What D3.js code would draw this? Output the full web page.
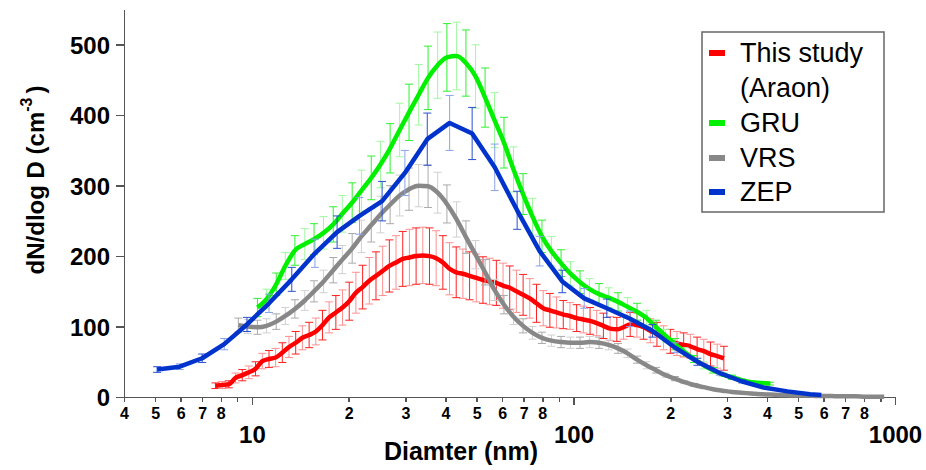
<!DOCTYPE html>
<html>
<head>
    <title>Size distribution</title>
    <style type="text/css">
        body { margin: 0; background: #fff; }
        svg text { font-family: "Liberation Sans", Arial, sans-serif; fill: #000; }
        .axis path, .axis line { stroke: #555; stroke-width: 1.5px; shape-rendering: crispEdges; }
        .axis text { font-weight: bold; }
    </style>
</head>
<body>
<script src="https://d3js.org/d3.v7.min.js" type="text/javascript"></script>
<script type="text/javascript">

    // This study (Araon)
    var redD = [7.7, 8.08, 8.47, 8.89, 9.33, 9.78, 10.26, 10.77, 11.3, 11.85, 12.43, 13.04, 13.68, 14.35, 15.06, 15.8,
        16.57, 17.38, 18.24, 19.13, 20.07, 21.05, 22.09, 23.17, 24.31, 25.5, 26.75, 28.06, 29.44, 30.88, 32.4, 33.99,
        35.66, 37.4, 39.24, 41.16, 43.18, 45.3, 47.52, 49.86, 52.3, 54.87, 57.56, 60.39, 63.35, 66.46, 69.72, 73.14,
        76.73, 80.5, 84.45, 88.59, 92.94, 97.5, 102.3, 107.3, 112.6, 118.1, 123.9, 130, 136.4, 143.1, 150.1, 157.5,
        165.2, 173.3, 181.8, 190.7, 200.1, 209.9, 220.2, 231, 242.4, 254.3, 266.8, 279.9, 293.6];
    var redV = [16, 17, 18, 27, 31, 35, 40, 51, 54, 56, 63, 71, 77, 84, 88, 93, 102, 113, 120, 127, 136, 148, 156, 165,
        172, 179, 186, 191, 196, 198, 200, 201, 200, 197, 191, 182, 177, 175, 172, 169, 166, 164, 162, 158, 155, 150,
        145, 140, 133, 126, 123, 120, 117, 115, 112, 110, 108, 105, 101, 97, 96, 99, 103, 102, 99, 94, 89, 84, 79, 76,
        74, 72, 68, 65, 61, 58, 55];
    var redE = [4, 5, 5, 7, 8, 9, 10, 11, 12, 13, 14, 15, 16, 17, 18, 19, 21, 22, 24, 25, 27, 29, 31, 33, 34, 35, 37,
        38, 39, 40, 40, 40, 40, 39, 38, 37, 36, 35, 34, 34, 33, 33, 32, 32, 31, 30, 29, 28, 27, 25, 24, 22, 20, 19, 19,
        19, 19, 18, 18, 17, 17, 17, 17, 17, 17, 17, 17, 17, 17, 17, 17, 17, 17, 17, 17, 17, 17];

    // GRU
    var gruD = [10.4, 11.1, 11.9, 12.7, 13.6, 14.6, 15.6, 16.7, 17.9, 19.1, 20.5, 21.9, 23.5, 25.1, 26.9, 28.8, 30.8,
        33.0, 35.3, 37.8, 40.4, 43.3, 46.3, 49.6, 53.1, 56.8, 60.8, 65.1, 69.7, 74.6, 79.8, 85.4, 91.5, 97.9, 104.8,
        112.2, 120.1, 128.6, 137.6, 147.3, 157.7, 168.8, 180.7, 193.4, 207.0, 221.6, 237.2, 253.9, 271.8, 290.9, 311.4,
        333.3, 356.8, 381.9, 408.8];
    var gruV = [127, 139, 160, 186, 208, 217, 224, 233, 245, 260, 276, 293, 311, 330, 353, 379, 404, 429, 453, 471, 482,
        484, 474, 455, 425, 393, 361, 323, 288, 256, 228, 207, 190, 175, 163, 153, 146, 141, 135, 128, 121, 112, 99, 87,
        75, 64, 54, 45, 38, 32, 28, 24, 21, 20, 19];
    var gruE = [13, 14, 16, 19, 21, 22, 22, 23, 25, 26, 28, 29, 31, 33, 35, 38, 40, 43, 45, 47, 48, 48, 47, 45, 42, 39,
        36, 32, 29, 26, 23, 21, 19, 17, 16, 15, 15, 14, 13, 13, 12, 11, 10, 9, 8, 6, 5, 5, 4, 3, 3, 2, 2, 2, 2];

    // VRS
    var vrsD = [9.07, 9.71, 10.4, 11.1, 11.9, 12.7, 13.6, 14.6, 15.6, 16.7, 17.9, 19.1, 20.5, 21.9, 23.5, 25.1, 26.9,
        28.8, 30.8, 33.0, 35.3, 37.8, 40.4, 43.3, 46.3, 49.6, 53.1, 56.8, 60.8, 65.1, 69.7, 74.6, 79.8, 85.4, 91.5, 97.9,
        104.8, 112.2, 120.1, 128.6, 137.6, 147.3, 157.7, 168.8, 180.7, 193.4, 207.0, 221.6, 237.2, 253.9, 271.8, 290.9,
        311.4, 333.3, 356.8, 381.9, 408.8, 437.6, 468.4, 501.4, 536.7, 574.5, 615.0, 658.4, 704.8, 754.5, 807.7, 864.6,
        925.5];
    var vrsV = [102, 100, 99, 101, 107, 115, 125, 137, 150, 164, 180, 195, 211, 228, 244, 259, 273, 286, 295, 300, 299,
        290, 274, 252, 227, 202, 177, 152, 131, 114, 101, 91, 84, 80, 78, 77, 77, 78, 77, 74, 69, 62, 53, 45, 38, 31, 26,
        21, 17, 14, 11, 9, 7, 6, 5, 4, 3.5, 3, 2.5, 2, 2, 1.5, 1.5, 1, 1, 1, 0.5, 0.5, 0.5];
    var vrsE = [10, 10, 10, 10, 11, 12, 13, 14, 15, 16, 18, 20, 21, 23, 24, 26, 27, 29, 30, 30, 30, 29, 27, 25, 23, 20,
        18, 15, 13, 11, 10, 9, 8, 8, 8, 8, 8, 8, 8, 7, 7, 6, 5, 5, 4, 3, 3, 2, 2, 1, 0, 0, 0, 0, 0, 0, 0, 0, 0, 0, 0, 0,
        0, 0, 0, 0, 0, 0, 0];

    // ZEP
    var zepD = [5.07, 5.96, 7.0, 8.2, 9.65, 11.3, 13.3, 15.7, 18.4, 21.6, 25.4, 29.9, 35.1, 41.2, 48.4, 56.9, 66.8,
        78.5, 92.3, 108, 127, 150, 176, 207, 243, 285, 335, 394, 463, 544, 590];
    var zepV = [39, 43, 55, 75, 103, 133, 167, 204, 234, 257, 278, 318, 366, 389, 374, 326, 265, 207, 164, 140, 126,
        111, 94, 70, 50, 34, 22, 13, 8, 4, 3];
    var zepE = [4, 4, 6, 8, 10, 13, 17, 20, 23, 26, 28, 32, 37, 39, 37, 33, 27, 21, 16, 14, 13, 11, 9, 7, 5, 3, 2, 0,
        0, 0, 0];

    var xMinorTicks = [4, 5, 6, 7, 8, 9, 20, 30, 40, 50, 60, 70, 80, 90, 200, 300, 400, 500, 600, 700, 800, 900];
    var xMajorTicks = [10, 100, 1000];
    var yTicks = [0, 100, 200, 300, 400, 500];

    var series = [
        { name: 'This study', name2: '(Araon)', color: '#ff0000', bar: '#ff2020', light: '#ff9090', smooth: true, d: redD, v: redV, e: redE },
        { name: 'VRS', color: '#888888', bar: '#aaaaaa', light: '#d0d0d0', smooth: true, d: vrsD, v: vrsV, e: vrsE },
        { name: 'GRU', color: '#00f000', bar: '#30f030', light: '#a0f8a0', smooth: true, d: gruD, v: gruV, e: gruE },
        { name: 'ZEP', color: '#0033cc', bar: '#2a50d0', light: '#8aa2e8', smooth: false, d: zepD, v: zepV, e: zepE }
    ];
    var legendOrder = [0, 2, 1, 3];

    var svg = d3.select('body').append('svg')
        .attr('width', 926)
        .attr('height', 470);

    var x = d3.scaleLog().domain([4, 1000]).range([124, 895]);
    var y = d3.scaleLinear().domain([0, 550]).range([397, 9.5]);

    // axes
    var xMinor = svg.append('g')
        .attr('class', 'axis')
        .attr('transform', 'translate(0,397)')
        .call(d3.axisBottom(x).tickValues(xMinorTicks).tickSize(5).tickSizeOuter(0)
            .tickFormat(function (d) {
                var lead = Math.round(d / Math.pow(10, Math.floor(Math.log10(d) + 1e-9)));
                return lead === 9 ? '' : lead;
            }));
    xMinor.selectAll('text')
        .attr('y', 22)
        .attr('dy', 0)
        .style('font-size', '16px');

    var xMajor = svg.append('g')
        .attr('class', 'axis')
        .attr('transform', 'translate(0,397)')
        .call(d3.axisBottom(x).tickValues(xMajorTicks).tickSize(8).tickFormat(d3.format('d')));
    xMajor.select('.domain').remove();
    xMajor.selectAll('text')
        .attr('y', 46)
        .attr('dy', 0)
        .style('font-size', '24px');

    var yAxis = svg.append('g')
        .attr('class', 'axis')
        .attr('transform', 'translate(124,0)')
        .call(d3.axisLeft(y).tickValues(yTicks).tickSize(8).tickSizeOuter(0));
    yAxis.selectAll('text')
        .attr('x', -14)
        .attr('dy', '0.36em')
        .style('font-size', '24px');

    svg.append('text')
        .attr('x', 461)
        .attr('y', 460)
        .attr('text-anchor', 'middle')
        .style('font-weight', 'bold')
        .style('font-size', '25px')
        .text('Diamter (nm)');

    var yTitle = svg.append('text')
        .attr('transform', 'translate(44,180) rotate(-90)')
        .attr('text-anchor', 'middle')
        .style('font-weight', 'bold')
        .style('font-size', '24px');
    yTitle.append('tspan').text('dN/dlog D (cm');
    yTitle.append('tspan').attr('dy', -12).style('font-size', '16px').text('-3');
    yTitle.append('tspan').attr('dx', 4).attr('dy', 12).text(')');

    // error bars + lines
    series.forEach(function (s) {
        var pts = s.d.map(function (d, i) { return { d: d, v: s.v[i], e: s.e[i], i: i }; });
        var bars = svg.append('g')
            .selectAll('g')
            .data(pts.filter(function (p) { return p.e > 0; }))
            .enter().append('g')
            .style('stroke', function (p) { return p.i % 2 ? s.light : s.bar; })
            .style('stroke-width', 1);
        bars.append('line')
            .attr('x1', function (p) { return x(p.d); })
            .attr('x2', function (p) { return x(p.d); })
            .attr('y1', function (p) { return y(p.v - p.e); })
            .attr('y2', function (p) { return y(p.v + p.e); });
        bars.append('line')
            .attr('x1', function (p) { return x(p.d) - 4; })
            .attr('x2', function (p) { return x(p.d) + 4; })
            .attr('y1', function (p) { return y(p.v + p.e); })
            .attr('y2', function (p) { return y(p.v + p.e); });
        bars.append('line')
            .attr('x1', function (p) { return x(p.d) - 4; })
            .attr('x2', function (p) { return x(p.d) + 4; })
            .attr('y1', function (p) { return y(p.v - p.e); })
            .attr('y2', function (p) { return y(p.v - p.e); });

        var line = d3.line()
            .x(function (p) { return x(p.d); })
            .y(function (p) { return y(p.v); })
            .curve(s.smooth ? d3.curveMonotoneX : d3.curveLinear);

        svg.append('path')
            .datum(pts)
            .attr('d', line)
            .style('fill', 'none')
            .style('stroke', s.color)
            .style('stroke-width', 4.5)
            .style('stroke-linejoin', 'round');
    });

    // legend
    var legend = svg.append('g');
    legend.append('rect')
        .attr('x', 702)
        .attr('y', 32)
        .attr('width', 182)
        .attr('height', 180)
        .style('fill', '#fff')
        .style('stroke', '#666')
        .style('stroke-width', 1.5);

    var rowY = [62, 132, 167, 201];
    legendOrder.forEach(function (k, j) {
        var s = series[k];
        legend.append('rect')
            .attr('x', 709)
            .attr('y', rowY[j] - 12)
            .attr('width', 16)
            .attr('height', 6)
            .style('fill', s.color);
        legend.append('text')
            .attr('x', 740)
            .attr('y', rowY[j])
            .style('font-size', '27px')
            .text(s.name);
        if (s.name2) {
            legend.append('text')
                .attr('x', 740)
                .attr('y', rowY[j] + 35)
                .style('font-size', '27px')
                .text(s.name2);
        }
    });
</script>
</body>
</html>
